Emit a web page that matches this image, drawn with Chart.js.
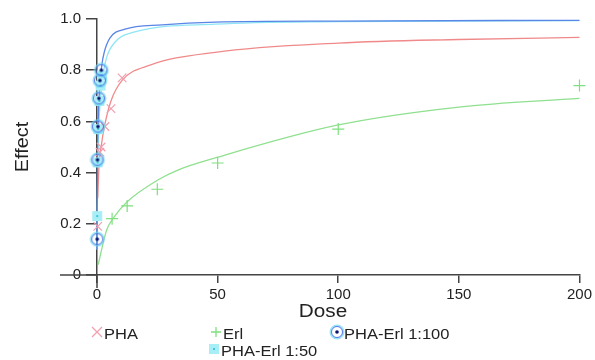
<!DOCTYPE html>
<html>
<head>
<meta charset="utf-8">
<script src="https://cdn.jsdelivr.net/npm/chart.js@4/dist/chart.umd.min.js"></script>
<style>
  body { margin: 0; background: #fff; }
</style>
</head>
<body>
<canvas id="myChart" width="595" height="360"></canvas>
<script>
// ticks
var xTicks = [0, 50, 100, 150, 200];
var yTicks = [0, 0.2, 0.4, 0.6, 0.8, 1.0];

// measured points (dose, effect)
var phaDose = [0.3, 1.2, 1.7, 3.3, 5.8, 10.4];
var phaEffect = [0.19, 0.48, 0.5, 0.58, 0.65, 0.77];
var erlDose = [6.25, 12.5, 25, 50, 100, 200];
var erlEffect = [0.22, 0.27, 0.335, 0.4375, 0.57, 0.74];
var mix100Dose = [0.1, 0.2, 0.4, 0.8, 1.2, 1.8];
var mix100Effect = [0.14, 0.45, 0.58, 0.69, 0.76, 0.8];
var mix50Dose = [0.1, 0.25, 0.5, 1, 1.5, 2];
var mix50Effect = [0.23, 0.44, 0.57, 0.68, 0.74, 0.78];

// fitted curves
var phaFitDose = [0.3, 0.8, 1.7, 3.3, 5.8, 10.4, 22, 49, 100, 150, 200];
var phaFitEffect = [0.3, 0.42, 0.5, 0.59, 0.68, 0.76, 0.82, 0.87, 0.906, 0.92, 0.928];
var erlFitDose = [0.5, 1.2, 4, 6.6, 12.4, 25, 33.5, 50, 100, 150, 200];
var erlFitEffect = [0.04, 0.07, 0.176, 0.22, 0.285, 0.37, 0.41, 0.46, 0.586, 0.656, 0.69];
var mix100FitDose = [0, 0.2, 0.5, 1, 2, 3, 5.4, 11.6, 27, 49, 100, 200];
var mix100FitEffect = [0.1, 0.45, 0.6, 0.72, 0.82, 0.87, 0.926, 0.96, 0.977, 0.988, 0.992, 0.995];
var mix50FitDose = [0, 0.3, 0.7, 1.5, 2.5, 4, 7.5, 15.7, 49, 100, 200];
var mix50FitEffect = [0.1, 0.43, 0.57, 0.7, 0.78, 0.85, 0.91, 0.95, 0.98, 0.99, 0.994];

function pts(xs, ys) {
  return xs.map(function (x, i) { return { x: x, y: ys[i] }; });
}

// circle with a dark dot
function circleDot() {
  var c = document.createElement('canvas');
  c.width = 16; c.height = 16;
  var g = c.getContext('2d');
  g.strokeStyle = 'rgba(110,215,240,0.7)';
  g.lineWidth = 2;
  g.beginPath(); g.arc(8, 8, 6.5, 0, Math.PI * 2); g.stroke();
  g.strokeStyle = 'rgba(70,100,230,0.85)';
  g.lineWidth = 1;
  g.beginPath(); g.arc(8, 8, 5.5, 0, Math.PI * 2); g.stroke();
  g.fillStyle = '#0a1470';
  g.beginPath(); g.arc(8, 8, 1.8, 0, Math.PI * 2); g.fill();
  return c;
}

// light cyan square with a dot
function squareDot() {
  var c = document.createElement('canvas');
  c.width = 12; c.height = 12;
  var g = c.getContext('2d');
  g.fillStyle = '#a8eef6';
  g.fillRect(1, 1, 10, 10);
  g.fillStyle = '#40c8d8';
  g.fillRect(5, 5, 2, 2);
  return c;
}

var circleImg = circleDot();
var squareImg = squareDot();

var legendItems = [
  { text: 'PHA', x: 92, y: 334, mark: 'x', color: '#f0a0b0' },
  { text: 'Erl', x: 211, y: 334, mark: '+', color: '#7ee07e' },
  { text: 'PHA-Erl 1:100', x: 332, y: 334, mark: 'c' },
  { text: 'PHA-Erl 1:50', x: 209, y: 351, mark: 's' }
];

function wideText(ctx, s, x, y, k) {
  ctx.save();
  ctx.translate(x, y);
  ctx.scale(k, 1);
  ctx.fillText(s, 0, 0);
  ctx.restore();
}

var extras = {
  id: 'extras',
  afterDraw: function (chart) {
    var ctx = chart.ctx;
    var xs = chart.scales.x, ys = chart.scales.y;
    var x0 = xs.getPixelForValue(0), y0 = ys.getPixelForValue(0);
    ctx.save();
    // axis stubs past the origin
    ctx.strokeStyle = '#444';
    ctx.lineWidth = 1.5;
    ctx.beginPath();
    ctx.moveTo(60, y0); ctx.lineTo(x0, y0);
    ctx.moveTo(x0, y0); ctx.lineTo(x0, y0 + 13);
    ctx.stroke();

    ctx.fillStyle = '#222';
    ctx.font = '18px "Liberation Sans", Arial, sans-serif';
    ctx.textAlign = 'center';
    ctx.textBaseline = 'middle';
    wideText(ctx, 'Dose', 323, 312, 1.15);
    ctx.save();
    ctx.translate(23, 147);
    ctx.rotate(-Math.PI / 2);
    wideText(ctx, 'Effect', 0, 0, 1.1);
    ctx.restore();

    ctx.font = '15px "Liberation Sans", Arial, sans-serif';
    ctx.textAlign = 'left';
    legendItems.forEach(function (it) {
      var cx = it.x + 5, cy = it.y - 2;
      if (it.mark === 'x' || it.mark === '+') {
        ctx.strokeStyle = it.color;
        ctx.lineWidth = 1.3;
        ctx.beginPath();
        if (it.mark === 'x') {
          ctx.moveTo(cx - 5, cy - 5); ctx.lineTo(cx + 5, cy + 5);
          ctx.moveTo(cx + 5, cy - 5); ctx.lineTo(cx - 5, cy + 5);
        } else {
          ctx.moveTo(cx - 5, cy); ctx.lineTo(cx + 5, cy);
          ctx.moveTo(cx, cy - 5); ctx.lineTo(cx, cy + 5);
        }
        ctx.stroke();
      } else {
        var img = it.mark === 'c' ? circleImg : squareImg;
        ctx.drawImage(img, cx - img.width / 2, cy - img.height / 2);
      }
      ctx.fillStyle = '#222';
      wideText(ctx, it.text, it.x + 12, it.y + 1, 1.1);
    });
    ctx.restore();
  }
};

var ctx = document.getElementById('myChart').getContext('2d');

var myChart = new Chart(ctx, {
  type: 'scatter',
  data: {
    datasets: [
      {
        label: 'PHA fit',
        data: pts(phaFitDose, phaFitEffect),
        showLine: true,
        borderColor: '#f08a8a',
        borderWidth: 1.3,
        pointRadius: 0,
        cubicInterpolationMode: 'monotone',
        clip: false,
        order: 3
      },
      {
        label: 'Erl fit',
        data: pts(erlFitDose, erlFitEffect),
        showLine: true,
        borderColor: '#8fe08f',
        borderWidth: 1.3,
        pointRadius: 0,
        cubicInterpolationMode: 'monotone',
        clip: false,
        order: 3
      },
      {
        label: 'PHA-Erl 1:50 fit',
        data: pts(mix50FitDose, mix50FitEffect),
        showLine: true,
        borderColor: '#8fe6f5',
        borderWidth: 1.3,
        pointRadius: 0,
        cubicInterpolationMode: 'monotone',
        clip: false,
        order: 3
      },
      {
        label: 'PHA-Erl 1:100 fit',
        data: pts(mix100FitDose, mix100FitEffect),
        showLine: true,
        borderColor: '#5a86e6',
        borderWidth: 1.3,
        pointRadius: 0,
        cubicInterpolationMode: 'monotone',
        clip: false,
        order: 2
      },
      {
        label: 'PHA',
        data: pts(phaDose, phaEffect),
        pointStyle: 'crossRot',
        pointRadius: 6,
        borderColor: '#f0a0b0',
        borderWidth: 1.2,
        clip: false,
        order: 1
      },
      {
        label: 'Erl',
        data: pts(erlDose, erlEffect),
        pointStyle: 'cross',
        pointRadius: 6,
        borderColor: '#7ee07e',
        borderWidth: 1.2,
        clip: false,
        order: 1
      },
      {
        label: 'PHA-Erl 1:50',
        data: pts(mix50Dose, mix50Effect),
        pointStyle: squareImg,
        clip: false,
        order: 1
      },
      {
        label: 'PHA-Erl 1:100',
        data: pts(mix100Dose, mix100Effect),
        pointStyle: circleImg,
        clip: false,
        order: 0
      }
    ]
  },
  options: {
    responsive: false,
    animation: false,
    devicePixelRatio: 1,
    layout: { padding: { left: 0, top: 19, right: 15, bottom: 0 } },
    plugins: {
      legend: { display: false },
      tooltip: { enabled: false }
    },
    scales: {
      x: {
        type: 'linear',
        min: 0,
        max: 200,
        position: 'bottom',
        afterBuildTicks: function (scale) {
          scale.ticks = xTicks.map(function (v) { return { value: v }; });
        },
        afterFit: function (scale) { scale.height = 85; },
        border: { display: true, color: '#444', width: 1.5 },
        grid: { display: true, drawOnChartArea: false, drawTicks: true, tickLength: 8, color: '#444', lineWidth: 1.5 },
        ticks: {
          color: '#222',
          padding: 3,
          maxRotation: 0,
          font: { size: 15, family: '"Liberation Sans", Arial, sans-serif' },
          callback: function (v) { return String(v); }
        }
      },
      y: {
        type: 'linear',
        min: 0,
        max: 1.0,
        position: 'left',
        afterBuildTicks: function (scale) {
          scale.ticks = yTicks.map(function (v) { return { value: v }; });
        },
        afterFit: function (scale) { scale.width = 97; },
        border: { display: true, color: '#444', width: 1.5 },
        grid: { display: true, drawOnChartArea: false, drawTicks: true, tickLength: 11, color: '#444', lineWidth: 1.5 },
        ticks: {
          color: '#222',
          padding: 5,
          font: { size: 15, family: '"Liberation Sans", Arial, sans-serif' },
          callback: function (v) { return v === 0 ? '0' : v.toFixed(1); }
        }
      }
    }
  },
  plugins: [extras]
});
</script>
</body>
</html>
